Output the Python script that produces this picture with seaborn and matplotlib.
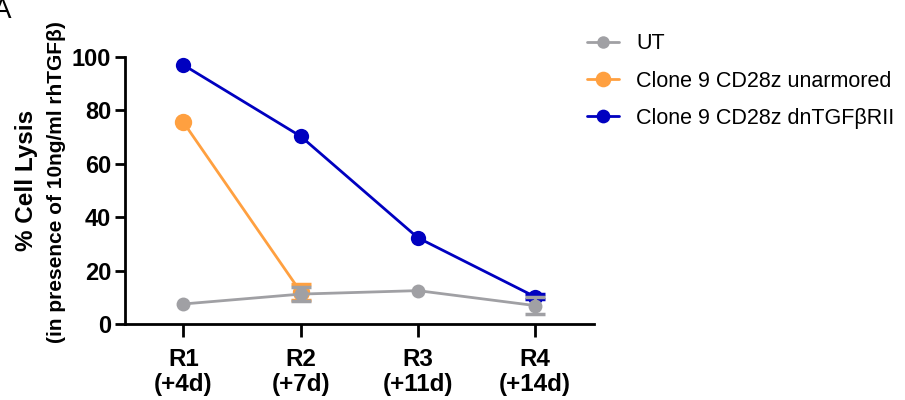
import matplotlib
matplotlib.use("Agg")
import matplotlib.pyplot as plt
import seaborn as sns
import pandas as pd
import numpy as np
from matplotlib.lines import Line2D

categories = ["R1\n(+4d)", "R2\n(+7d)", "R3\n(+11d)", "R4\n(+14d)"]
series_names = ["UT", "Clone 9 CD28z unarmored", "Clone 9 CD28z dnTGF\u03b2RII"]
ut_vals = [7.5, 11.2, 12.5, 6.9]
ut_err = [0.0, 2.5, 0.0, 3.3]
unarm_vals = [75.5, 12.0, np.nan, np.nan]
unarm_err = [0.0, 3.0, np.nan, np.nan]
dn_vals = [97.0, 70.3, 32.3, 10.2]
dn_err = [0.0, 0.0, 0.0, 1.0]
colors = ["#a0a0a4", "#ffa040", "#0000c0"]
marker_sizes = [10, 12.5, 11]
layer = [5, 3, 3]

sns.set_theme(style="ticks")
plt.rcParams['font.family'] = ['Liberation Sans', 'DejaVu Sans']
plt.rcParams['text.color'] = 'black'
plt.rcParams['xtick.color'] = 'black'
plt.rcParams['ytick.color'] = 'black'
plt.rcParams['axes.labelcolor'] = 'black'

rows = []
for name, vals, errs in zip(series_names, [ut_vals, unarm_vals, dn_vals], [ut_err, unarm_err, dn_err]):
    for i, (v, e) in enumerate(zip(vals, errs)):
        rows.append({"pos": i, "val": v, "err": e, "group": name})
df = pd.DataFrame(rows)

fig = plt.figure(figsize=(9.05, 4.0), dpi=100)
ax = fig.add_axes([0.138, 0.19, 0.518, 0.6675])

for name, col, ms, z in zip(series_names, colors, marker_sizes, layer):
    sub = df[df["group"] == name].dropna()
    eb = sub[sub["err"] > 0]
    if len(eb):
        ax.errorbar(eb["pos"], eb["val"], yerr=eb["err"], fmt="none", ecolor=col,
                    elinewidth=2, capsize=7, capthick=2.5, zorder=z - 1)
    sns.lineplot(data=sub, x="pos", y="val", ax=ax, color=col, linewidth=2,
                 marker="o", markersize=ms, markeredgewidth=0, label=name,
                 zorder=z, legend=False)

ax.set_xlim(-0.5, 3.5)
ax.set_ylim(0, 100)
ax.set_xticks(range(len(categories)))
ax.set_xticklabels(categories, fontsize=17.5, fontweight="bold", linespacing=1.15)
ax.set_yticks([0, 20, 40, 60, 80, 100])
ax.set_yticklabels(["0", "20", "40", "60", "80", "100"], fontsize=17, fontweight="bold")
ax.set_xlabel("")
ax.set_ylabel("")
sns.despine(ax=ax)
for s in ["left", "bottom"]:
    ax.spines[s].set_linewidth(2)
    ax.spines[s].set_color("black")
ax.tick_params(axis="both", width=2, length=7, color="black", pad=3)
ax.tick_params(axis="x", length=9, pad=8)

fig.text(0.029, 0.55, "% Cell Lysis", rotation=90, ha="center", va="center",
         fontsize=17.5, fontweight="bold")
fig.text(0.062, 0.545, "(in presence of 10ng/ml rhTGF\u03b2)", rotation=90, ha="center",
         va="center", fontsize=15, fontweight="bold")
fig.text(-0.008, 1.005, "A", fontsize=20, ha="left", va="top")

leg_handles = [Line2D([0], [0], color=c, marker="o", markersize=ms * 0.9, linewidth=2,
                      markeredgewidth=0) for c, ms in zip(colors, marker_sizes)]
leg = fig.legend(leg_handles, series_names, loc="upper left", bbox_to_anchor=(0.627, 0.965),
                 frameon=False, fontsize=15.5, handlelength=1.5, handletextpad=0.8,
                 labelspacing=0.75)

fig.savefig("out.png", dpi=100)
